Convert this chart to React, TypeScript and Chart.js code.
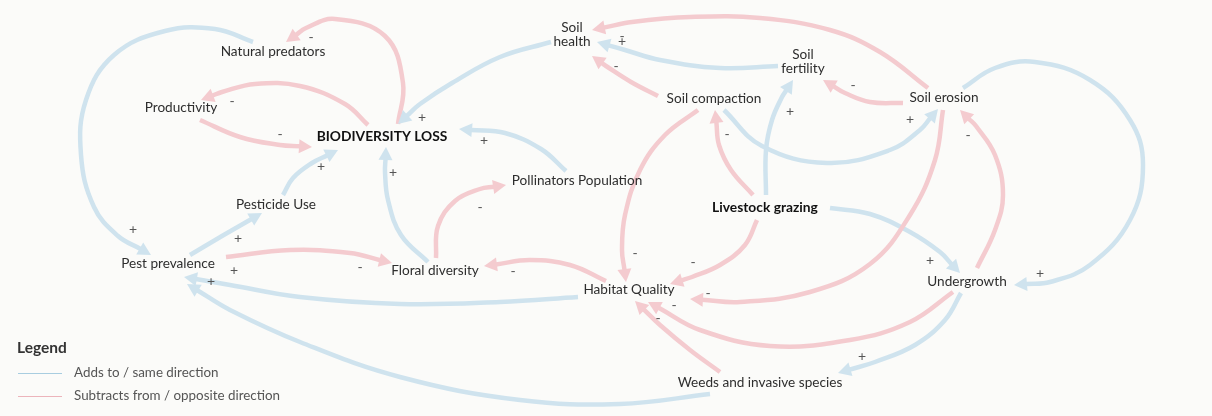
import React, { useEffect, useRef } from "react";
import { Chart, registerables } from "chart.js";

Chart.register(...registerables);

// ---------- Nodes (diagram coordinates: x 0..1212, y 0..416 top-down) ----------
const nodeNames = [
  "Natural predators",
  "Productivity",
  "BIODIVERSITY LOSS",
  "Soil\nhealth",
  "Soil\nfertility",
  "Soil compaction",
  "Soil erosion",
  "Pollinators Population",
  "Pesticide Use",
  "Livestock grazing",
  "Pest prevalence",
  "Floral diversity",
  "Habitat Quality",
  "Undergrowth",
  "Weeds and invasive species",
];
const nodeX = [273, 181, 382, 572, 803, 714, 944, 577, 276, 765, 168, 435, 629, 967, 760];
const nodeY = [52, 108, 137, 35, 62, 99, 98, 181, 205, 208, 264, 271, 290, 282, 383];
const nodeBold = [false, false, true, false, false, false, false, false, false, true, false, false, false, false, false];

// ---------- Causal links ----------
const edgeFrom = [
  "BIODIVERSITY LOSS", "Natural predators", "BIODIVERSITY LOSS", "Productivity", "Soil health",
  "Pollinators Population", "Pesticide Use", "Floral diversity", "Pest prevalence", "Pest prevalence",
  "Floral diversity", "Habitat Quality", "Habitat Quality", "Weeds and invasive species", "Soil compaction",
  "Soil fertility", "Soil erosion", "Soil erosion", "Livestock grazing", "Livestock grazing",
  "Soil compaction", "Soil erosion", "Undergrowth", "Soil erosion", "Livestock grazing",
  "Livestock grazing", "Soil compaction", "Undergrowth", "Weeds and invasive species", "Undergrowth",
];
const edgeTo = [
  "Natural predators", "Pest prevalence", "Productivity", "BIODIVERSITY LOSS", "BIODIVERSITY LOSS",
  "BIODIVERSITY LOSS", "BIODIVERSITY LOSS", "BIODIVERSITY LOSS", "Pesticide Use", "Floral diversity",
  "Pollinators Population", "Floral diversity", "Pest prevalence", "Pest prevalence", "Soil health",
  "Soil health", "Soil health", "Soil fertility", "Soil fertility", "Soil compaction",
  "Soil erosion", "Undergrowth", "Soil erosion", "Habitat Quality", "Undergrowth",
  "Habitat Quality", "Habitat Quality", "Habitat Quality", "Habitat Quality", "Weeds and invasive species",
];
const edgeSign = [
  "-", "+", "-", "-", "+",
  "+", "+", "+", "+", "-",
  "-", "-", "+", "+", "-",
  "+", "-", "-", "+", "-",
  "+", "+", "-", "-", "+",
  "-", "-", "-", "-", "+",
];
// waypoints of each link; the last one is the arrow tip
const edgePaths: number[][][] = [
  [[398, 124], [403, 83], [385, 36], [335, 19], [306, 28], [286, 42]],
  [[253, 42], [215, 29], [165, 31], [114, 55], [86, 100], [81, 155], [94, 207], [118, 236], [151, 255]],
  [[368, 125], [345, 104], [300, 86], [255, 84], [222, 92], [201, 100]],
  [[200, 120], [240, 137], [280, 145], [312, 147]],
  [[551, 42], [500, 57], [452, 83], [420, 104], [398, 124]],
  [[566, 171], [541, 149], [505, 133], [459, 129]],
  [[283, 195], [293, 178], [312, 163], [338, 150]],
  [[428, 262], [401, 235], [388, 200], [385, 172], [386, 147]],
  [[190, 255], [222, 236], [262, 213]],
  [[226, 257], [290, 250], [350, 253], [392, 263]],
  [[436, 258], [438, 226], [455, 201], [480, 189], [506, 185]],
  [[606, 281], [570, 265], [530, 260], [484, 266]],
  [[578, 297], [500, 302], [400, 304], [300, 297], [230, 285], [184, 277]],
  [[710, 394], [620, 404], [520, 400], [400, 377], [300, 342], [230, 310], [187, 284]],
  [[658, 96], [631, 82], [606, 66], [592, 56]],
  [[778, 66], [720, 68], [660, 60], [625, 50], [597, 42]],
  [[928, 88], [880, 52], [830, 30], [760, 18], [690, 17], [632, 22], [592, 30]],
  [[903, 103], [870, 102], [845, 93], [823, 80]],
  [[766, 195], [766, 150], [772, 120], [782, 97], [793, 80]],
  [[753, 195], [731, 170], [719, 145], [715, 110]],
  [[724, 110], [762, 146], [827, 163], [890, 150], [920, 130], [938, 109]],
  [[963, 88], [995, 68], [1035, 62], [1090, 80], [1130, 120], [1143, 165], [1130, 220], [1090, 265], [1050, 282], [1014, 285]],
  [[977, 268], [995, 230], [1003, 195], [995, 155], [976, 126], [960, 110]],
  [[943, 110], [935, 160], [910, 215], [870, 264], [810, 292], [740, 302], [690, 299]],
  [[830, 208], [870, 214], [910, 232], [940, 252], [960, 273]],
  [[757, 220], [745, 245], [720, 265], [692, 277], [670, 284]],
  [[698, 110], [665, 135], [640, 170], [625, 215], [622, 250], [626, 282]],
  [[953, 292], [910, 322], [850, 340], [770, 346], [700, 330], [648, 302]],
  [[720, 372], [690, 350], [660, 325], [635, 301]],
  [[961, 293], [945, 320], [915, 345], [875, 362], [838, 373]],
];
const edgeSignX = [311, 133, 232, 280, 422, 484, 321, 393, 238, 360, 480, 513, 234, 211, 616, 622, 622, 853, 790, 727, 910, 1040, 968, 708, 930, 693, 635, 674, 658, 862];
const edgeSignY = [37, 229, 101, 134, 117, 140, 166, 172, 238, 267, 207, 271, 270, 281, 66, 41, 36, 85, 111, 134, 119, 273, 135, 293, 260, 262, 253, 305, 318, 356];

// ---------- Legend ----------
const legendTitle = "Legend";
const legendItems = ["Adds to / same direction", "Subtracts from / opposite direction"];

const BLUE = "#cfe3ee";
const PINK = "#f4cbcf";
const LEGEND_COLORS = ["#a8cde0", "#ecb4bb"];
const BG = "#fbfbf9";
const FONT = "Lato, 'Open Sans', sans-serif";
const ARROW_LEN = 12;
const ARROW_HALF = 7;

function shortened(path: number[][]) {
  const n = path.length;
  const tip = path[n - 1];
  const prev = path[n - 2];
  const dx = tip[0] - prev[0];
  const dy = tip[1] - prev[1];
  const d = Math.hypot(dx, dy) || 1;
  const base = [tip[0] - (dx / d) * ARROW_LEN, tip[1] - (dy / d) * ARROW_LEN];
  return path.slice(0, n - 1).concat([base]);
}

const diagramPlugin = {
  id: "causalLoop",
  beforeDraw(chart: any) {
    const { ctx, width, height } = chart;
    ctx.save();
    ctx.fillStyle = BG;
    ctx.fillRect(0, 0, width, height);
    ctx.restore();
  },
  afterDatasetsDraw(chart: any) {
    const { ctx } = chart;
    const xs = chart.scales.x;
    const ys = chart.scales.y;
    const px = (v: number) => xs.getPixelForValue(v);
    const py = (v: number) => ys.getPixelForValue(v);

    // arrowheads
    ctx.save();
    edgePaths.forEach((path, i) => {
      const tip = path[path.length - 1];
      const meta = chart.getDatasetMeta(i);
      const last = meta.data[meta.data.length - 1];
      const tx = px(tip[0]);
      const ty = py(tip[1]);
      const bx = last.x;
      const by = last.y;
      const dx = tx - bx;
      const dy = ty - by;
      const d = Math.hypot(dx, dy) || 1;
      const nx = -dy / d;
      const ny = dx / d;
      ctx.fillStyle = edgeSign[i] === "+" ? BLUE : PINK;
      ctx.beginPath();
      ctx.moveTo(tx, ty);
      ctx.lineTo(bx + nx * ARROW_HALF - (dx / d) * 1, by + ny * ARROW_HALF - (dy / d) * 1);
      ctx.lineTo(bx - nx * ARROW_HALF - (dx / d) * 1, by - ny * ARROW_HALF - (dy / d) * 1);
      ctx.closePath();
      ctx.fill();
    });

    // polarity signs
    ctx.fillStyle = "#555";
    ctx.font = `14px ${FONT}`;
    ctx.textAlign = "center";
    ctx.textBaseline = "middle";
    edgeSign.forEach((s, i) => {
      ctx.fillText(s, px(edgeSignX[i]), py(edgeSignY[i]));
    });

    // node labels
    nodeNames.forEach((name, i) => {
      ctx.font = nodeBold[i] ? `bold 13.8px ${FONT}` : `13.6px ${FONT}`;
      ctx.fillStyle = nodeBold[i] ? "#111" : "#2e2e2e";
      const lines = name.split("\n");
      const lh = 14;
      const y0 = py(nodeY[i]) - ((lines.length - 1) * lh) / 2;
      lines.forEach((ln, k) => ctx.fillText(ln, px(nodeX[i]), y0 + k * lh));
    });

    // legend
    ctx.textAlign = "left";
    ctx.font = `bold 15.5px ${FONT}`;
    ctx.fillStyle = "#333";
    ctx.fillText(legendTitle, px(17), py(348));
    legendItems.forEach((label, k) => {
      const y = Math.round(py(373 + k * 23));
      ctx.strokeStyle = LEGEND_COLORS[k];
      ctx.lineWidth = 1;
      ctx.beginPath();
      ctx.moveTo(px(18), y + 0.5);
      ctx.lineTo(px(62), y + 0.5);
      ctx.stroke();
      ctx.font = `13.4px ${FONT}`;
      ctx.fillStyle = "#555";
      ctx.fillText(label, px(74), y);
    });
    ctx.restore();
  },
};

export default function App() {
  const ref = useRef<HTMLCanvasElement | null>(null);

  useEffect(() => {
    document.body.style.margin = "0";
    document.body.style.overflow = "hidden";
    const canvas = ref.current;
    if (!canvas) return;

    const datasets: any[] = edgePaths.map((path, i) => ({
      label: `${edgeFrom[i]} → ${edgeTo[i]} (${edgeSign[i]})`,
      data: shortened(path).map(([x, y]) => ({ x, y })),
      borderColor: edgeSign[i] === "+" ? BLUE : PINK,
      borderWidth: 4.5,
      borderCapStyle: "butt",
      pointRadius: 0,
      pointHoverRadius: 0,
      tension: 0.4,
      fill: false,
    }));
    datasets.push({
      label: "Factors",
      data: nodeNames.map((_, i) => ({ x: nodeX[i], y: nodeY[i] })),
      showLine: false,
      pointRadius: 0,
      pointHoverRadius: 0,
      borderWidth: 0,
    });

    const chart = new Chart(canvas, {
      type: "line",
      data: { datasets },
      options: {
        animation: false,
        responsive: false,
        maintainAspectRatio: false,
        devicePixelRatio: 1,
        layout: { padding: 0 },
        events: [],
        plugins: { legend: { display: false }, tooltip: { enabled: false } },
        scales: {
          x: { type: "linear", min: 0, max: 1212, display: false },
          y: { type: "linear", min: 0, max: 416, reverse: true, display: false },
        },
      } as any,
      plugins: [diagramPlugin],
    });
    return () => chart.destroy();
  }, []);

  return (
    <div style={{ width: 1212, height: 416, overflow: "hidden" }}>
      <canvas ref={ref} width={1212} height={416} style={{ display: "block", width: 1212, height: 416 }} />
    </div>
  );
}
